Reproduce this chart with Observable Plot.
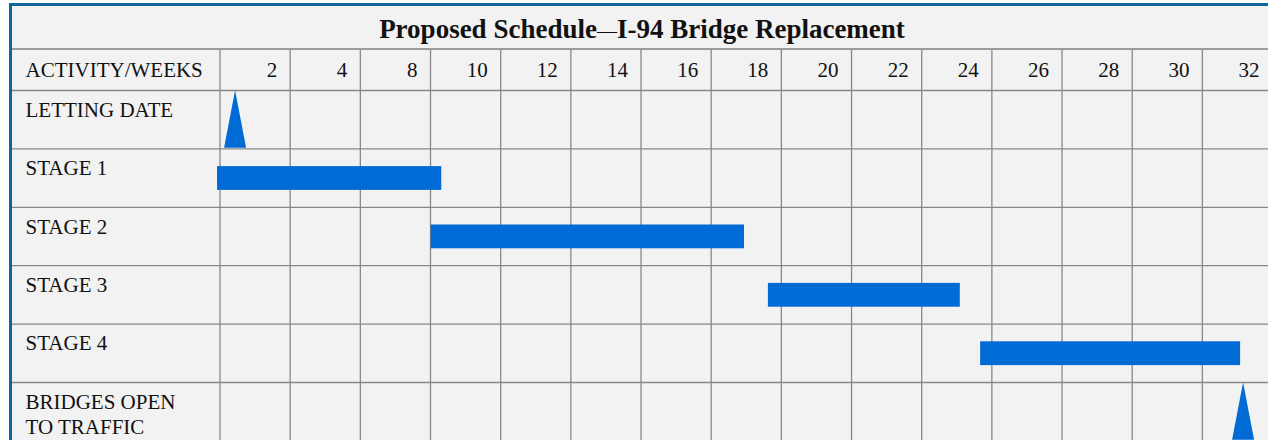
<!DOCTYPE html>
<html>
<head>
<meta charset="utf-8">
<script src="https://cdn.jsdelivr.net/npm/d3@7"></script>
<script src="https://cdn.jsdelivr.net/npm/@observablehq/plot@0.6"></script>
<style>
html, body { margin: 0; padding: 0; background: #fff; }
#wrap { position: relative; width: 1268px; height: 440px; overflow: hidden; }
#box { position: absolute; left: 9px; top: 3px; width: 1300px; height: 500px;
  border-left: 3px solid #0c67a1; border-top: 3px solid #0c67a1; background: #f2f2f2; }
#title { position: absolute; left: 12px; top: 6px; width: 1260px; height: 42px;
  border-bottom: 2px solid #9c9c9c; font: bold 27px "Liberation Serif", "Times New Roman", serif;
  text-align: center; line-height: 46px; color: #111; white-space: nowrap; }
#title .dash { font-weight: normal; font-size: 20px; }
#chart { position: absolute; left: 12px; top: 50px; }
</style>
</head>
<body>
<div id="wrap">
  <div id="box"></div>
  <div id="title">Proposed Schedule<span class="dash">—</span>I-94 Bridge Replacement</div>
  <div id="chart"></div>
</div>
<script>
// ---- data ----
const weekLabels = [2, 4, 8, 10, 12, 14, 16, 18, 20, 22, 24, 26, 28, 30, 32];
const weekEdges = [0, ...weekLabels];
const headerLabel = "ACTIVITY/WEEKS";
const activities = ["LETTING DATE", "STAGE 1", "STAGE 2", "STAGE 3", "STAGE 4", "BRIDGES OPEN\nTO TRAFFIC"];
const barActivity = ["STAGE 1", "STAGE 2", "STAGE 3", "STAGE 4"];
const barStart = [-0.07, 8.02, 17.63, 23.68];
const barEnd = [8.32, 16.95, 23.1, 31.09];
const milestoneActivity = ["LETTING DATE", "BRIDGES OPEN\nTO TRAFFIC"];
const milestoneWeek = [0.43, 31.16];

// weeks -> column index (the header columns are not evenly spaced in weeks)
const weekToCol = d3.scaleLinear().domain(weekEdges).range(weekEdges.map((_, i) => i));

// ---- tables built from the arrays ----
const bars = barActivity.map((a, i) => ({row: activities.indexOf(a), start: weekToCol(barStart[i]), end: weekToCol(barEnd[i])}));
const milestones = milestoneActivity.map((a, i) => ({row: activities.indexOf(a), col: weekToCol(milestoneWeek[i])}));
const headers = weekLabels.map(w => ({label: String(w), col: weekToCol(w)}));
const edges = weekEdges.map(w => weekToCol(w));

const blue = "#006bd4";
const gridColor = "#888888";
const font = "Liberation Serif, Times New Roman, serif";
const nCols = weekLabels.length;

const chart = Plot.plot({
  width: 1256,
  height: 390,
  marginTop: 0, marginRight: 0, marginBottom: 0, marginLeft: 0,
  style: {background: "transparent", fontFamily: font, fontSize: "21px", color: "#111", overflow: "visible"},
  x: {domain: [0, nCols], range: [207.5, 207.5 + nCols * 70.17], axis: null},
  y: {domain: [0, activities.length], range: [40, 390.4], axis: null},
  marks: [
    Plot.ruleY(d3.range(activities.length), {stroke: gridColor, strokeWidth: 1.3}),
    Plot.ruleX(edges, {stroke: gridColor, strokeWidth: 1.3}),
    Plot.rect(bars, {x1: "start", x2: "end", y1: "row", y2: d => d.row + 1,
      insetTop: 17.7, insetBottom: 16.9, fill: blue}),
    Plot.vector(milestones, {x: "col", y: d => d.row + 1, shape: "spike", anchor: "start",
      length: 57.5, r: 11, dy: -1.2, fill: blue, stroke: "none", fillOpacity: 1}),
    Plot.text(headers, {x: "col", text: "label", frameAnchor: "top",
      lineAnchor: "bottom", textAnchor: "end", dx: -13, dy: 26.5, fontSize: 21, fill: "#111"}),
    Plot.text([headerLabel], {frameAnchor: "top-left", lineAnchor: "bottom", textAnchor: "start",
      dx: 13, dy: 26.5, fontSize: 21, fill: "#111"}),
    Plot.text(activities, {y: (d, i) => i, frameAnchor: "left", textAnchor: "start",
      lineAnchor: "top", dx: 13, dy: 8.5, lineHeight: 25 / 21, fontSize: 21, fill: "#111"})
  ]
});
document.getElementById("chart").appendChild(chart);
</script>
</body>
</html>
